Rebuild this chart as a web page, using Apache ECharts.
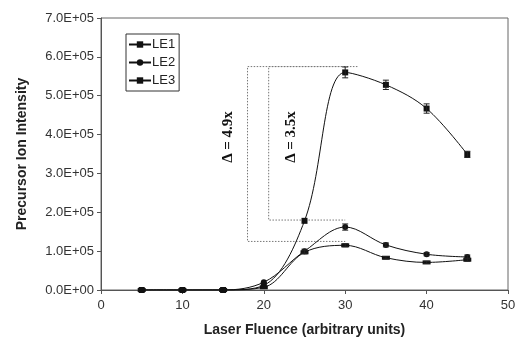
<!DOCTYPE html>
<html>
<head>
<meta charset="utf-8">
<script src="https://cdn.jsdelivr.net/npm/echarts@6/dist/echarts.min.js"></script>
<style>
  html, body { margin: 0; padding: 0; background: #fff; }
  #chart { width: 516px; height: 338px; }
</style>
</head>
<body>
<div id="chart"></div>
<script>
// 数据
var fluence = [5, 10, 15, 20, 25, 30, 35, 40, 45];
var le1 = [0, 0, 0, 12000, 178000, 560000, 528000, 467000, 349000];
var le2 = [0, 0, 0, 20000, 100000, 162000, 116000, 92000, 85000];
var le3 = [0, 0, 0, 7000, 97000, 115000, 83000, 71000, 78000];
var le1Err = [0, 0, 0, 0, 0, 14000, 12000, 12000, 8000];
var le2Err = [0, 0, 0, 0, 5000, 8000, 5000, 4000, 5000];
var le3Err = [0, 0, 0, 0, 4000, 4000, 3000, 3000, 4000];
var yTicks = [0, 100000, 200000, 300000, 400000, 500000, 600000, 700000];
// 标注框 (数据坐标)
var bracketOuter = [[30, 575000], [18, 575000], [18, 125000], [30, 125000]];
var bracketInner = [[31.5, 575000], [20.6, 575000], [20.6, 180000], [30, 180000]];

var chart = echarts.init(document.getElementById('chart'));

function pairs(vals) {
  return fluence.map(function (x, i) { return [x, vals[i]]; });
}
function errData(vals, errs) {
  var out = [];
  fluence.forEach(function (x, i) {
    if (errs[i] > 0) out.push([x, vals[i] - errs[i], vals[i] + errs[i]]);
  });
  return out;
}
function errSeries(vals, errs) {
  return {
    type: 'custom',
    silent: true,
    z: 5,
    renderItem: function (params, api) {
      var lo = api.coord([api.value(0), api.value(1)]);
      var hi = api.coord([api.value(0), api.value(2)]);
      var w = 3;
      var st = { stroke: '#222', lineWidth: 1 };
      return {
        type: 'group',
        children: [
          { type: 'line', shape: { x1: lo[0], y1: lo[1], x2: hi[0], y2: hi[1] }, style: st },
          { type: 'line', shape: { x1: lo[0] - w, y1: lo[1], x2: lo[0] + w, y2: lo[1] }, style: st },
          { type: 'line', shape: { x1: hi[0] - w, y1: hi[1], x2: hi[0] + w, y2: hi[1] }, style: st }
        ]
      };
    },
    encode: { x: 0, y: [1, 2] },
    data: errData(vals, errs)
  };
}
function bracket(pts) {
  return {
    type: 'line',
    data: pts,
    symbol: 'none',
    silent: true,
    lineStyle: { color: '#777', width: 1, type: [1.5, 1.5] },
    z: 1
  };
}

var font = 'Arial, "Liberation Sans", sans-serif';
var option = {
  animation: false,
  grid: {
    left: 101, right: 8, top: 18, bottom: 48,
    containLabel: false, outerBoundsMode: 'none',
    show: true, borderColor: '#666', borderWidth: 1
  },
  legend: {
    orient: 'vertical',
    left: 126,
    top: 34,
    data: ['LE1', 'LE2', 'LE3'],
    itemWidth: 22,
    itemHeight: 8,
    itemGap: 5,
    padding: [4, 4, 4, 2],
    borderColor: '#333',
    borderWidth: 1,
    textStyle: { color: '#222', fontSize: 13, fontFamily: font, padding: [0, 0, 0, -4] }
  },
  xAxis: {
    type: 'value',
    min: 0,
    max: 50,
    interval: 10,
    name: 'Laser Fluence (arbitrary units)',
    nameLocation: 'middle',
    nameGap: 33,
    nameTextStyle: { color: '#222', fontSize: 14, fontWeight: 'bold', fontFamily: font },
    axisLine: { lineStyle: { color: '#555' } },
    axisTick: { show: true, length: 4, lineStyle: { color: '#555' } },
    axisLabel: { color: '#333', fontSize: 13, fontFamily: font, margin: 9 },
    splitLine: { show: false }
  },
  yAxis: {
    type: 'value',
    min: yTicks[0],
    max: yTicks[yTicks.length - 1],
    interval: 100000,
    name: 'Precursor Ion Intensity',
    nameLocation: 'middle',
    nameGap: 72,
    nameTextStyle: { color: '#222', fontSize: 14, fontWeight: 'bold', fontFamily: font },
    axisLine: { show: true, lineStyle: { color: '#555' } },
    axisTick: { show: true, length: 4, lineStyle: { color: '#555' } },
    axisLabel: {
      color: '#333', fontSize: 13, fontFamily: font, margin: 7,
      formatter: function (v) {
        if (v === 0) return '0.0E+00';
        return (v / 100000).toFixed(1) + 'E+05';
      }
    },
    splitLine: { show: false }
  },
  series: [
    bracket(bracketOuter),
    bracket(bracketInner),
    {
      name: 'LE1', type: 'line', data: pairs(le1), smooth: 0.35,
      symbol: 'rect', symbolSize: 6,
      itemStyle: { color: '#111' }, lineStyle: { color: '#111', width: 1 }, z: 3
    },
    {
      name: 'LE2', type: 'line', data: pairs(le2), smooth: 0.35,
      symbol: 'circle', symbolSize: 6,
      itemStyle: { color: '#111' }, lineStyle: { color: '#111', width: 1 }, z: 3
    },
    {
      name: 'LE3', type: 'line', data: pairs(le3), smooth: 0.35,
      symbol: 'rect', symbolSize: [8, 4],
      itemStyle: { color: '#111' }, lineStyle: { color: '#111', width: 1 }, z: 3
    },
    errSeries(le1, le1Err),
    errSeries(le2, le2Err),
    errSeries(le3, le3Err)
  ],
  graphic: [
    {
      type: 'text', x: 228, y: 137, rotation: Math.PI / 2,
      style: {
        text: 'Δ = 4.9x', fill: '#111', font: 'bold 15px "Liberation Serif", "Times New Roman", serif',
        align: 'center', verticalAlign: 'middle'
      }
    },
    {
      type: 'text', x: 291, y: 137, rotation: Math.PI / 2,
      style: {
        text: 'Δ = 3.5x', fill: '#111', font: 'bold 15px "Liberation Serif", "Times New Roman", serif',
        align: 'center', verticalAlign: 'middle'
      }
    }
  ]
};

chart.setOption(option);
</script>
</body>
</html>
